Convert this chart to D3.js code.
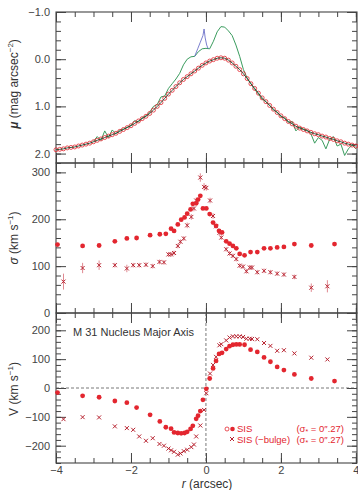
<!DOCTYPE html>
<html>
<head>
<meta charset="utf-8">
<script src="https://cdn.jsdelivr.net/npm/d3@7"></script>
<style>
  html, body { margin: 0; padding: 0; background: #fff; }
  svg { display: block; font-family: "Liberation Sans", Arial, sans-serif; }
</style>
</head>
<body>
<svg id="chart" width="358" height="490"></svg>
<script>
// ---- data ----
// panel 1: surface brightness, model sampled every 0.1" from -4 to 4
const muModel = [1.92,1.91,1.90,1.88,1.87,1.86,1.84,1.82,1.80,1.78,
  1.75,1.72,1.69,1.66,1.63,1.60,1.57,1.53,1.49,1.45,
  1.41,1.36,1.31,1.26,1.21,1.15,1.08,1.00,0.92,0.83,
  0.74,0.66,0.58,0.50,0.43,0.37,0.31,0.25,0.19,0.13,
  0.08,0.04,0.01,-0.02,-0.03,-0.02,0.02,0.08,0.15,0.22,
  0.31,0.41,0.52,0.62,0.72,0.82,0.90,0.98,1.06,1.13,
  1.20,1.26,1.32,1.37,1.42,1.46,1.49,1.52,1.55,1.58,
  1.60,1.63,1.65,1.68,1.70,1.73,1.75,1.78,1.80,1.82,1.84];
// observed profile, every 0.1" from -3 to 4
const muObs = [1.74,1.64,1.72,1.52,1.66,1.50,1.58,1.50,1.48,1.44,
  1.40,1.30,1.33,1.24,1.20,1.12,1.00,0.96,0.80,0.78,
  0.62,0.52,0.42,0.30,0.12,0.00,-0.05,-0.06,-0.16,-0.22,
  -0.23,-0.22,-0.38,-0.58,-0.69,-0.68,-0.60,-0.50,-0.30,-0.06,
  0.22,0.40,0.52,0.64,0.74,0.85,0.90,0.98,1.08,1.12,
  1.22,1.24,1.34,1.32,1.52,1.44,1.48,1.50,1.58,1.78,
  1.66,1.72,1.90,1.70,1.64,1.84,1.80,2.04,1.90,1.82,1.90];
const rBlue = [-0.30,-0.22,-0.15,-0.08,-0.05,-0.02,0.02,0.06];
const muBlue = [-0.06,-0.22,-0.36,-0.50,-0.64,-0.45,-0.30,-0.22];

// SIS points (filled circles)
const sisR = [-3.96,-3.29,-2.85,-2.43,-2.11,-1.85,-1.49,-1.23,-1.07,-0.93,
  -0.85,-0.75,-0.66,-0.57,-0.50,-0.41,-0.35,-0.26,-0.21,-0.15,
  -0.08,0.01,0.10,0.19,0.27,0.35,0.43,0.54,0.63,0.72,
  0.81,0.90,1.03,1.19,1.37,1.55,1.72,1.90,2.08,2.36,2.81,3.43];
const sisSigma = [146,143,144,153,159,160,166,168,169,180,
  175,189,199,204,212,221,233,234,242,250,
  223,223,211,193,186,175,172,153,148,143,
  138,126,123,130,130,138,138,140,141,147,144,147];
const sisV = [-16,-27,-32,-45,-51,-68,-93,-116,-136,-141,
  -154,-156,-157,-156,-152,-142,-131,-107,-96,-80,
  -41,-3,33,68,94,118,122,135,145,150,
  151,151,150,133,125,106,91,73,62,47,33,24];

// SIS (-bulge) points (crosses)
const nbR = [-3.80,-3.29,-2.85,-2.43,-2.11,-1.94,-1.78,-1.60,-1.42,-1.24,
  -1.12,-1.00,-0.93,-0.85,-0.75,-0.68,-0.59,-0.50,-0.39,-0.32,
  -0.26,-0.15,-0.05,0.01,0.11,0.19,0.27,0.36,0.41,0.54,
  0.63,0.72,0.81,0.90,0.99,1.08,1.17,1.23,1.37,1.55,
  1.72,1.90,2.08,2.36,2.81,3.24];
const nbSigma = [67,96,102,102,95,102,102,103,100,109,
  108,125,125,128,143,152,159,187,205,223,
  240,289,269,267,240,207,185,171,161,136,
  127,122,115,101,99,89,97,97,87,90,
  87,84,82,77,54,57];
const nbSigmaErr = [17,11,10,5,8,5,5,5,5,5,
  5,5,5,5,5,5,5,6,6,6,
  6,9,8,6,6,6,5,5,5,5,
  5,5,5,5,5,5,5,5,5,5,
  5,5,5,5,9,13];
const nbV = [-108,-101,-102,-133,-139,-145,-168,-183,-174,-194,
  -200,-210,-216,-221,-231,-227,-219,-214,-205,-196,
  -168,-130,-76,-18,50,80,108,148,152,165,
  175,179,179,179,177,171,171,170,169,156,
  146,129,131,120,105,99];

const xMajor = [-4, -2, 0, 2, 4];
const muMajor = [-1, 0, 1, 2];
const sigmaMajor = [0, 100, 200, 300];
const vMajor = [-200, -100, 0, 100, 200];

// ---- layout ----
const svg = d3.select('#chart');
const L = 56, R = 357;
const panels = [12, 163, 313, 463];
const red = '#e3262f', darkRed = '#b82330';

const x = d3.scaleLinear().domain([-4, 4.03]).range([L, R]);
const yMu = d3.scaleLinear().domain([-1, 2.2]).range([panels[0], panels[1]]);
const ySig = d3.scaleLinear().domain([0, 320]).range([panels[2], panels[1]]);
const yV = d3.scaleLinear().domain([-260, 260]).range([panels[3], panels[2]]);

const muR = muModel.map((_, i) => -4 + i * 0.1);
const obsR = muObs.map((_, i) => -3 + i * 0.1);

const minus = s => String(s).replace('-', '\u2212');

function frame(y, top, bottom, majors, minors, fmt, showX) {
  const g = svg.append('g');
  // left
  g.append('g').attr('transform', `translate(${L},0)`)
    .call(d3.axisLeft(y).tickValues(minors).tickSize(-5).tickFormat(''));
  g.append('g').attr('transform', `translate(${L},0)`)
    .call(d3.axisLeft(y).tickValues(majors).tickSize(-10).tickPadding(6).tickFormat(fmt));
  // right
  g.append('g').attr('transform', `translate(${R},0)`)
    .call(d3.axisRight(y).tickValues(minors).tickSize(-5).tickFormat(''));
  g.append('g').attr('transform', `translate(${R},0)`)
    .call(d3.axisRight(y).tickValues(majors).tickSize(-10).tickFormat(''));
  // top / bottom
  const xMinor = d3.range(-4, 4.01, 0.5);
  g.append('g').attr('transform', `translate(0,${top})`)
    .call(d3.axisTop(x).tickValues(xMinor).tickSize(-5).tickFormat(''));
  g.append('g').attr('transform', `translate(0,${top})`)
    .call(d3.axisTop(x).tickValues(xMajor).tickSize(-10).tickFormat(''));
  g.append('g').attr('transform', `translate(0,${bottom})`)
    .call(d3.axisBottom(x).tickValues(xMinor).tickSize(-5).tickFormat(''));
  g.append('g').attr('transform', `translate(0,${bottom})`)
    .call(d3.axisBottom(x).tickValues(xMajor).tickSize(-10).tickPadding(3)
      .tickFormat(showX ? d => minus(d) : ''));
  g.selectAll('.domain').remove();
  g.selectAll('.tick line').attr('stroke', '#444').attr('stroke-width', 1);
  g.selectAll('.tick text').attr('fill', '#444').attr('font-size', 11)
    .attr('font-family', '"Liberation Sans", Arial, sans-serif');
  svg.append('rect').attr('x', L).attr('y', top).attr('width', R - L).attr('height', bottom - top)
    .attr('fill', 'none').attr('stroke', '#444').attr('stroke-width', 1.1);
}

frame(yMu, panels[0], panels[1], muMajor, d3.range(-1, 2.21, 0.2), d => minus(d.toFixed(1)), false);
frame(ySig, panels[1], panels[2], sigmaMajor, d3.range(0, 321, 20), d => d, false);
frame(yV, panels[2], panels[3], vMajor, d3.range(-260, 261, 20), d => minus(d), true);

// ---- panel 1 ----
const p1 = svg.append('g');
const lineMu = d3.line().x(d => x(d[0])).y(d => yMu(d[1]));
p1.append('path').datum(obsR.map((r, i) => [r, muObs[i]]))
  .attr('d', lineMu).attr('fill', 'none').attr('stroke', '#3a9c5e').attr('stroke-width', 1);
p1.append('path').datum(rBlue.map((r, i) => [r, muBlue[i]]))
  .attr('d', lineMu).attr('fill', 'none').attr('stroke', '#6c70c8').attr('stroke-width', 0.9);
p1.selectAll('circle').data(muR.map((r, i) => [r, muModel[i]])).enter().append('circle')
  .attr('cx', d => x(d[0])).attr('cy', d => yMu(d[1])).attr('r', 2)
  .attr('fill', 'none').attr('stroke', red).attr('stroke-width', 0.8);
p1.append('path').datum(muR.map((r, i) => [r, muModel[i]]))
  .attr('d', lineMu).attr('fill', 'none').attr('stroke', '#1c4a30').attr('stroke-width', 0.9);

// ---- helpers for points ----
function dots(g, rs, vs, y) {
  g.selectAll(null).data(rs.map((r, i) => [r, vs[i]])).enter().append('circle')
    .attr('cx', d => x(d[0])).attr('cy', d => y(d[1])).attr('r', 2.4).attr('fill', red);
}
function crosses(g, rs, vs, y) {
  const s = 2;
  g.selectAll(null).data(rs.map((r, i) => [r, vs[i]])).enter().append('path')
    .attr('d', d => {
      const cx = x(d[0]), cy = y(d[1]);
      return `M${cx - s},${cy - s}L${cx + s},${cy + s}M${cx - s},${cy + s}L${cx + s},${cy - s}`;
    })
    .attr('stroke', darkRed).attr('stroke-width', 1).attr('fill', 'none');
}

// ---- panel 2 ----
const p2 = svg.append('g');
p2.selectAll(null).data(nbR.map((r, i) => [r, nbSigma[i], nbSigmaErr[i]])).enter().append('line')
  .attr('x1', d => x(d[0])).attr('x2', d => x(d[0]))
  .attr('y1', d => ySig(d[1] - d[2])).attr('y2', d => ySig(d[1] + d[2]))
  .attr('stroke', '#e08890').attr('stroke-width', 1);
crosses(p2, nbR, nbSigma, ySig);
dots(p2, sisR, sisSigma, ySig);

// ---- panel 3 ----
const p3 = svg.append('g');
p3.append('line').attr('x1', L).attr('x2', R).attr('y1', yV(0)).attr('y2', yV(0))
  .attr('stroke', '#555').attr('stroke-width', 0.8).attr('stroke-dasharray', '3,2');
p3.append('line').attr('x1', x(0)).attr('x2', x(0)).attr('y1', panels[2]).attr('y2', panels[3])
  .attr('stroke', '#555').attr('stroke-width', 0.8).attr('stroke-dasharray', '3,2');
crosses(p3, nbR, nbV, yV);
dots(p3, sisR, sisV, yV);

p3.append('text').attr('x', 73).attr('y', 336).attr('font-size', 11).attr('fill', '#333')
  .text('M 31 Nucleus Major Axis');

// legend
const lg = svg.append('g').attr('font-size', 9.5).attr('fill', red);
lg.append('circle').attr('cx', 227).attr('cy', 429).attr('r', 2).attr('fill', 'none')
  .attr('stroke', red).attr('stroke-width', 0.8);
lg.append('circle').attr('cx', 232.5).attr('cy', 429).attr('r', 2.3).attr('fill', red);
lg.append('text').attr('x', 237).attr('y', 432).text('SIS');
lg.append('path').attr('d', 'M230,437L234,441M230,441L234,437').attr('stroke', darkRed).attr('stroke-width', 1);
lg.append('text').attr('x', 237).attr('y', 443).text('SIS (\u2212bulge)');
[432, 443].forEach(yy => {
  const t = lg.append('text').attr('x', 344).attr('y', yy).attr('text-anchor', 'end');
  t.append('tspan').text('(\u03c3');
  t.append('tspan').attr('font-size', 7).attr('dy', 2).text('*');
  t.append('tspan').attr('dy', -2).text(' = 0\u2033.27)');
});

// axis titles
const title = (cx, cy) => svg.append('text')
  .attr('transform', `translate(${cx},${cy}) rotate(-90)`)
  .attr('text-anchor', 'middle').attr('font-size', 12).attr('fill', '#333');
const t1 = title(18, 84);
t1.append('tspan').attr('font-weight', 'bold').attr('font-style', 'italic').text('\u03bc');
t1.append('tspan').text(' (mag arcsec');
t1.append('tspan').attr('font-size', 8).attr('dy', -5).text('\u22122');
t1.append('tspan').attr('dy', 5).text(')');
const t2 = title(18, 238);
t2.append('tspan').attr('font-style', 'italic').text('\u03c3');
t2.append('tspan').text(' (km s');
t2.append('tspan').attr('font-size', 8).attr('dy', -5).text('\u22121');
t2.append('tspan').attr('dy', 5).text(')');
const t3 = title(18, 389);
t3.append('tspan').text('V (km s');
t3.append('tspan').attr('font-size', 8).attr('dy', -5).text('\u22121');
t3.append('tspan').attr('dy', 5).text(')');

svg.append('text').attr('x', 207).attr('y', 488).attr('text-anchor', 'middle')
  .attr('font-size', 12).attr('fill', '#333')
  .html('<tspan font-style="italic">r</tspan> (arcsec)');
</script>
</body>
</html>
